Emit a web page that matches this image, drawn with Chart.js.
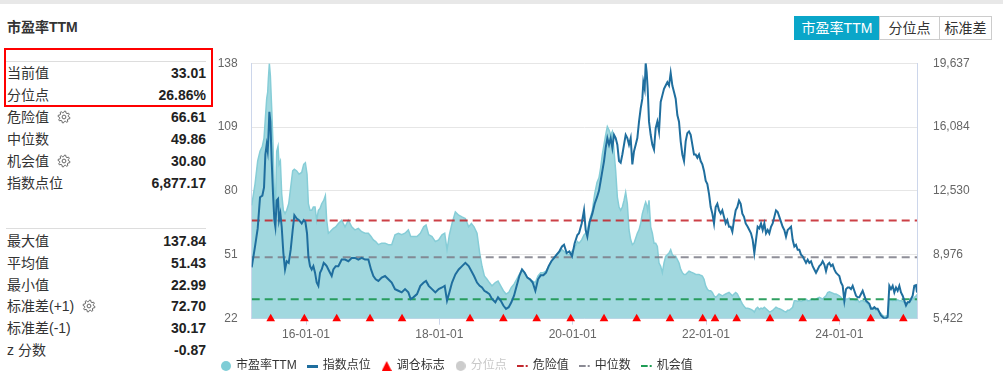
<!DOCTYPE html>
<html>
<head>
<meta charset="utf-8">
<script src="https://cdn.jsdelivr.net/npm/chart.js@4.4.1/dist/chart.umd.min.js"></script>
<style>
  html, body { margin: 0; padding: 0; background: #fff; overflow: hidden; }
  body { width: 1003px; height: 377px; position: relative; font-family: "Liberation Sans", "Noto Sans CJK SC", sans-serif; color: #333; }
  .topbar { position: absolute; left: 0; top: 0; width: 1003px; height: 4px; background: #e8e8e8; }
  .title { position: absolute; left: 7px; top: 19px; font-size: 14px; font-weight: bold; line-height: 16px; color: #333; }
  .redbox { position: absolute; left: 4px; top: 48px; width: 205px; height: 55px; border: 2px solid #f00; }
  .sep { position: absolute; left: 6px; width: 200px; height: 1px; background: #ddd; }
  .row { position: absolute; left: 7px; width: 199px; height: 20px; font-size: 14px; line-height: 20px; white-space: nowrap; }
  .row .v { position: absolute; right: 0; top: 0; font-weight: bold; color: #222; }
  .gear { display: inline-block; vertical-align: -2px; margin-left: 8px; }
  .btn { position: absolute; top: 16px; height: 22px; line-height: 22px; font-size: 14px; text-align: center; border: 1px solid #ccc; color: #333; background: #fff; }
  .btn.on { background: #0aa6c9; border-color: #0aa6c9; color: #fff; }
  #wrap { position: absolute; left: 210px; top: 40px; width: 793px; height: 345px; }
</style>
</head>
<body>
<div class="topbar"></div>
<div class="title">市盈率TTM</div>
<div class="redbox"></div>
<div class="sep" style="top:61px"></div>
<div class="sep" style="top:228px"></div>
<div id="stats"></div>
<div class="btn on" style="left:794px;width:84px">市盈率TTM</div>
<div class="btn" style="left:879px;width:59px">分位点</div>
<div class="btn" style="left:939px;width:51px">标准差</div>
<div id="wrap"><canvas id="chart"></canvas></div>

<script>
// ---- data ----
const dates = [
  2015.185, 2015.235, 2015.275, 2015.31, 2015.345, 2015.37, 2015.39, 2015.41, 2015.425, 2015.435,
  2015.45, 2015.465, 2015.485, 2015.505, 2015.525, 2015.54, 2015.56, 2015.58, 2015.595, 2015.615,
  2015.635, 2015.66, 2015.685, 2015.71, 2015.74, 2015.77, 2015.80, 2015.825, 2015.86, 2015.895,
  2015.935, 2015.965, 2015.99, 2016.015, 2016.035, 2016.06, 2016.085, 2016.11, 2016.135, 2016.16,
  2016.185, 2016.21, 2016.235, 2016.265, 2016.29, 2016.31, 2016.335, 2016.36, 2016.385, 2016.41,
  2016.445, 2016.485, 2016.535, 2016.585, 2016.635, 2016.685, 2016.735, 2016.785, 2016.835, 2016.885,
  2016.935, 2016.975, 2017.01, 2017.045, 2017.085, 2017.135, 2017.185, 2017.235, 2017.285, 2017.335,
  2017.385, 2017.435, 2017.485, 2017.535, 2017.57, 2017.61, 2017.665, 2017.715, 2017.765, 2017.8,
  2017.84, 2017.89, 2017.94, 2017.99, 2018.04, 2018.08, 2018.115, 2018.15, 2018.19, 2018.24,
  2018.29, 2018.34, 2018.39, 2018.44, 2018.48, 2018.52, 2018.565, 2018.605, 2018.64, 2018.675,
  2018.715, 2018.75, 2018.79, 2018.84, 2018.88, 2018.92, 2018.96, 2019.0, 2019.04, 2019.08,
  2019.12, 2019.16, 2019.2, 2019.24, 2019.28, 2019.32, 2019.36, 2019.4, 2019.44, 2019.48,
  2019.52, 2019.56, 2019.6, 2019.64, 2019.68, 2019.72, 2019.76, 2019.8, 2019.84, 2019.87,
  2019.91, 2019.95, 2019.99, 2020.03, 2020.07,
  2020.095, 2020.135, 2020.17, 2020.195, 2020.22, 2020.255, 2020.295, 2020.33, 2020.365, 2020.395,
  2020.42, 2020.445, 2020.47, 2020.495, 2020.52, 2020.545, 2020.57, 2020.595, 2020.62, 2020.645,
  2020.67, 2020.695, 2020.72, 2020.745, 2020.77, 2020.795, 2020.82, 2020.845, 2020.87, 2020.895,
  2020.92, 2020.945, 2020.97, 2020.995, 2021.02, 2021.045, 2021.06, 2021.08, 2021.095, 2021.11,
  2021.125, 2021.145, 2021.17, 2021.195, 2021.22, 2021.245, 2021.27, 2021.295, 2021.32, 2021.345,
  2021.37, 2021.395, 2021.42, 2021.445, 2021.47, 2021.495, 2021.52, 2021.545, 2021.57, 2021.595,
  2021.62, 2021.645, 2021.67, 2021.695, 2021.72, 2021.745, 2021.77, 2021.795, 2021.82, 2021.845,
  2021.87, 2021.895, 2021.92, 2021.945, 2021.97, 2021.995, 2022.02, 2022.045, 2022.07, 2022.095,
  2022.12, 2022.145, 2022.17, 2022.195, 2022.22, 2022.245, 2022.27, 2022.295, 2022.32, 2022.345,
  2022.37, 2022.395, 2022.42, 2022.445, 2022.47, 2022.495, 2022.52, 2022.545, 2022.57, 2022.595,
  2022.625, 2022.65, 2022.675, 2022.7, 2022.725, 2022.75, 2022.775, 2022.8, 2022.825, 2022.85,
  2022.875, 2022.9, 2022.925, 2022.95, 2022.975, 2023.0, 2023.025, 2023.05, 2023.075, 2023.1,
  2023.125, 2023.15, 2023.175, 2023.2, 2023.225, 2023.25, 2023.275, 2023.3, 2023.325, 2023.35,
  2023.375, 2023.4, 2023.425, 2023.45, 2023.475, 2023.5, 2023.525, 2023.55, 2023.575, 2023.6,
  2023.625, 2023.65, 2023.675, 2023.7, 2023.725, 2023.75, 2023.775, 2023.8, 2023.825, 2023.85,
  2023.875, 2023.9, 2023.925, 2023.95, 2023.975, 2024.0, 2024.025, 2024.05, 2024.075, 2024.1,
  2024.125, 2024.15, 2024.175, 2024.2, 2024.225, 2024.25, 2024.275, 2024.3, 2024.325, 2024.35,
  2024.375, 2024.4, 2024.425, 2024.45, 2024.475, 2024.5, 2024.525, 2024.55, 2024.575, 2024.6,
  2024.625, 2024.65, 2024.675, 2024.7, 2024.725, 2024.75, 2024.775, 2024.8, 2024.825, 2024.85,
  2024.875, 2024.9, 2024.925, 2024.95, 2024.975, 2025.0, 2025.025, 2025.05, 2025.075, 2025.1,
  2025.125, 2025.15, 2025.165
]

const peValues = [
  73.5, 83.1, 93.6, 98.0, 100.3, 104.0, 113.0, 121.9, 124.9, 130.8,
  137.84, 132.3, 117.4, 101.0, 78.7, 71.2, 98.0, 100.3, 92.1, 93.6,
  78.7, 71.2, 69.7, 71.2, 74.2, 81.6, 89.1, 89.9, 89.1, 87.6,
  88.4, 92.1, 92.8, 87.6, 74.2, 71.2, 71.2, 72.7, 72.7, 66.7,
  71.2, 72.0, 74.2, 75.7, 77.9, 66.7, 60.8, 61.5, 62.3, 63.0,
  63.7, 65.2, 66.7, 63.7, 66.7, 63.7, 62.3, 63.0, 61.5, 60.8,
  60.8, 59.3, 57.8, 57.0, 55.6, 56.3, 56.3, 55.6, 55.6, 60.1,
  60.8, 60.1, 60.8, 62.3, 59.3, 59.3, 59.3, 60.8, 63.7, 64.5,
  60.1, 59.3, 57.0, 57.8, 60.1, 60.8, 53.3, 60.1, 65.2, 70.5,
  69.0, 68.2, 67.5, 63.7, 65.2, 63.7, 60.8, 51.8, 45.8, 41.4,
  39.9, 38.4, 36.9, 38.4, 39.1, 36.9, 34.7, 33.2, 33.9, 36.2,
  37.7, 39.9, 42.1, 44.4, 42.9, 40.6, 39.9, 39.1, 38.4, 41.4,
  42.9, 42.9, 43.6, 45.8, 48.1, 49.2, 51.1, 52.1, 53.3, 52.6,
  51.1, 51.1, 52.6, 54.1, 57.0,
  56.3, 57.8, 60.0, 60.8, 62.3, 66.7, 71.2, 78.7, 83.9, 86.1,
  90.6, 96.6, 101.0, 105.5, 109.2, 107.7, 105.5, 107.0, 98.0, 89.1,
  77.2, 72.7, 71.2, 72.7, 75.7, 79.4, 74.2, 62.3, 57.8, 55.6,
  56.3, 58.5, 60.8, 62.3, 65.2, 69.7, 71.2, 73.5, 74.9, 73.5,
  71.2, 75.7, 63.7, 60.8, 56.3, 56.3, 54.8, 47.3, 45.8, 42.9,
  47.3, 50.3, 51.0, 51.8, 53.3, 51.0, 50.3, 50.3, 48.8, 47.3,
  44.4, 42.9, 42.1, 42.1, 42.9, 43.6, 43.2, 42.9, 42.6, 42.1,
  42.1, 42.1, 41.7, 41.4, 39.9, 36.9, 35.4, 34.7, 34.7, 33.9,
  32.4, 31.7, 32.4, 33.2, 32.8, 32.4, 32.8, 33.2, 33.6, 33.9,
  33.2, 32.4, 33.2, 33.9, 33.2, 31.7, 30.2, 28.7, 27.7, 26.8,
  26.8, 26.5, 26.2, 25.8, 25.0, 26.5, 27.2, 26.2, 26.8, 26.5,
  27.2, 26.5, 25.8, 25.0, 25.3, 25.8, 26.5, 27.2, 26.8, 26.5,
  26.2, 25.8, 25.3, 25.0, 25.8, 25.8, 26.5, 27.2, 30.2, 30.2,
  29.8, 30.2, 29.8, 30.2, 30.6, 30.9, 30.2, 30.2, 30.6, 30.9,
  30.6, 30.9, 31.3, 31.7, 31.3, 30.9, 31.7, 32.4, 33.9, 34.2,
  33.9, 33.6, 33.2, 33.2, 32.8, 32.4, 31.7, 30.9, 29.0, 30.9,
  30.9, 31.3, 30.9, 30.9, 30.6, 30.2, 30.6, 29.5, 30.2, 30.2,
  29.8, 29.5, 28.7, 28.0, 27.2, 26.5, 26.5, 25.8, 25.8, 25.0,
  24.3, 23.5, 22.99, 23.2, 23.5, 30.2, 30.6, 30.2, 30.6, 30.2,
  30.6, 30.2, 30.2, 29.8, 29.5, 29.1, 29.5, 29.8, 30.2, 30.9,
  31.7, 32.2, 33.01
]

const indexValues = [
  8273, 9442, 10447, 12183, 12274, 12731, 14558, 15106, 14741, 15471,
  16933, 16385, 14193, 12366, 10904, 10538, 12000, 12092, 10904, 11269,
  10538, 9077, 8163, 8620, 8529, 9260, 10356, 11178, 10995, 10904,
  10721, 10904, 10812, 10173, 8894, 8346, 8163, 8346, 7981, 7433,
  7250, 7981, 8163, 8529, 8437, 8346, 8163, 7981, 7798, 8163,
  8346, 8346, 8711, 8711, 8620, 8803, 8803, 8711, 8803, 8711,
  8711, 8163, 7798, 7615, 7524, 7707, 7798, 7615, 7433, 7067,
  6976, 6885, 7067, 6885, 6519, 6610, 6793, 7250, 7433, 7524,
  7250, 7067, 6885, 7067, 7159, 7250, 6428, 6885, 7433, 7889,
  8163, 8346, 8529, 8346, 8072, 7798, 7433, 7250, 7159, 6976,
  6885, 6793, 6519, 6337, 6610, 6428, 6154, 5971, 6063, 6337,
  6702, 7250, 7798, 8163, 7981, 7707, 7615, 7433, 6976, 7615,
  7835, 7835, 7981, 8346, 8620, 8803, 8986, 9169, 9442, 9534,
  9077, 9169, 8894, 9625, 10082,
  10173, 10721, 11452, 10356, 9990, 10812, 11269, 11817, 12183, 12548,
  13096, 13644, 14193, 14923, 15471, 15106, 15471, 14923, 15654, 15471,
  15106, 14193, 14101, 14558, 15106, 15654, 15471, 15106, 15471, 14010,
  14741, 15106, 15471, 16385, 17116, 17664, 18577, 18212, 19637, 19125,
  18212, 16385, 15654, 15106, 14832, 16020, 16385, 15837, 17481, 17847,
  18212, 18395, 18577, 18395, 19100, 18395, 18029, 17664, 16750, 16385,
  15289, 14558, 14193, 15289, 15745, 15837, 15654, 15106, 14558, 14558,
  14375, 14558, 14193, 14010, 13644, 13096, 12914, 12366, 11635, 11269,
  10721, 11635, 11817, 11452, 11269, 11452, 11087, 10721, 10904, 10538,
  10538, 10264, 10904, 11452, 11635, 12000, 11817, 11269, 11087, 10721,
  10538, 10356, 10173, 9808, 9077, 9808, 10538, 10447, 10721, 10356,
  10721, 10173, 10356, 10173, 10538, 10721, 11087, 11452, 11361, 11087,
  10812, 10538, 10356, 9990, 10356, 10447, 10538, 9808, 9442, 9534,
  9260, 9260, 8986, 8894, 8711, 8529, 8711, 8529, 8620, 8346,
  8163, 7981, 8163, 8346, 8437, 8620, 8437, 8072, 8437, 8529,
  8346, 8437, 8163, 7981, 7889, 7798, 7433, 7250, 6428, 7067,
  7159, 7159, 7067, 7250, 6976, 6702, 6610, 6610, 6793, 6976,
  6702, 6428, 6337, 6245, 5971, 5971, 6063, 5971, 5971, 5789,
  5606, 5514, 5422, 5450, 5514, 7250, 7067, 7250, 6885, 7159,
  6976, 7250, 6885, 6702, 6428, 6154, 6337, 6337, 6519, 6702,
  7250, 7287, 6877.17
]

const rebalanceDates = [
  2015.47, 2015.975, 2016.46, 2016.96, 2017.44, 2018.46, 2018.96, 2019.46, 2019.97, 2020.47,
  2020.96, 2021.46, 2021.95, 2022.135, 2022.46, 2022.96, 2023.45, 2023.95, 2024.47, 2024.96
]

const dangerValue = 66.61
const medianValue = 49.86
const chanceValue = 30.80

const peTicks = [22, 51, 80, 109, 138]
const indexTicks = [5422, 8976, 12530, 16084, 19637]
const indexTickLabels = ["5,422", "8,976", "12,530", "16,084", "19,637"]
const xTicks = [2016, 2018, 2020, 2022, 2024]
const xTickLabels = ["16-01-01", "18-01-01", "20-01-01", "22-01-01", "24-01-01"]

const seriesNames = ["市盈率TTM", "指数点位", "调仓标志", "分位点", "危险值", "中位数", "机会值"]

const statLabelsTop = ["当前值", "分位点", "危险值", "中位数", "机会值", "指数点位"]
const statValuesTop = ["33.01", "26.86%", "66.61", "49.86", "30.80", "6,877.17"]
const statLabelsBottom = ["最大值", "平均值", "最小值", "标准差(+1)", "标准差(-1)", "z 分数"]
const statValuesBottom = ["137.84", "51.43", "22.99", "72.70", "30.17", "-0.87"]
const gearRows = ["危险值", "机会值", "标准差(+1)"]

// ---- left stats panel ----
// small cog outline next to the editable rows
function gearSvg() {
  const pts = []
  for (let i = 0; i < 32; i++) {
    const ang = (i + 0.5) * Math.PI / 16
    const r = (i % 4 < 2) ? 6 : 4.4
    pts.push((7 + r * Math.cos(ang)).toFixed(2) + "," + (7 + r * Math.sin(ang)).toFixed(2))
  }
  return '<svg class="gear" width="14" height="14" viewBox="0 0 14 14">' +
    '<polygon points="' + pts.join(" ") + '" fill="none" stroke="#666" stroke-width="1" stroke-linejoin="round"/>' +
    '<circle cx="7" cy="7" r="1.9" fill="none" stroke="#666" stroke-width="1"/></svg>'
}

function addRows(labels, values, top, step) {
  const box = document.getElementById("stats")
  labels.forEach((label, i) => {
    const row = document.createElement("div")
    row.className = "row"
    row.style.top = (top + i * step) + "px"
    row.innerHTML = label + (gearRows.includes(label) ? gearSvg() : "") + '<span class="v">' + values[i] + "</span>"
    box.appendChild(row)
  })
}
addRows(statLabelsTop, statValuesTop, 62.5, 22)
addRows(statLabelsBottom, statValuesBottom, 230.8, 21.85)

// ---- legend markers ----
function marker(w, h, draw) {
  const c = document.createElement("canvas")
  c.width = w
  c.height = h
  draw(c.getContext("2d"))
  return c
}
const legendMarkers = [
  marker(10, 10, ctx => { ctx.fillStyle = "#7fcdd6"; ctx.beginPath(); ctx.arc(5, 5, 5, 0, Math.PI * 2); ctx.fill() }),
  marker(11, 3, ctx => { ctx.fillStyle = "#1f6e9e"; ctx.fillRect(0, 0, 11, 3) }),
  marker(10, 10, ctx => { ctx.fillStyle = "#ff0000"; ctx.beginPath(); ctx.moveTo(5, 0); ctx.lineTo(10, 10); ctx.lineTo(0, 10); ctx.fill() }),
  marker(10, 10, ctx => { ctx.fillStyle = "#cccccc"; ctx.beginPath(); ctx.arc(5, 5, 5, 0, Math.PI * 2); ctx.fill() }),
  marker(12, 2, ctx => { ctx.fillStyle = "#c3282e"; ctx.fillRect(0, 0, 7, 2); ctx.fillRect(9, 0, 2, 2) }),
  marker(12, 2, ctx => { ctx.fillStyle = "#8a8a94"; ctx.fillRect(0, 0, 7, 2); ctx.fillRect(9, 0, 2, 2) }),
  marker(12, 2, ctx => { ctx.fillStyle = "#1f9d55"; ctx.fillRect(0, 0, 7, 2); ctx.fillRect(9, 0, 2, 2) })
]

// ---- chart ----
Chart.defaults.font.family = "'Liberation Sans', 'Noto Sans CJK SC', sans-serif"
Chart.defaults.font.size = 12

const xMin = dates[0]
const xMax = dates[dates.length - 1]
const pePoints = dates.map((d, i) => ({ x: d, y: peValues[i] }))
const indexPoints = dates.map((d, i) => ({ x: d, y: indexValues[i] }))
const rebalancePoints = rebalanceDates.map(d => ({ x: d, y: peTicks[0] }))
const flatLine = v => [{ x: xMin, y: v }, { x: xMax, y: v }]

const thresholdStyle = color => ({
  yAxisID: "y",
  borderColor: color,
  borderWidth: 2,
  borderDash: [8, 5],
  pointRadius: 0,
  fill: false,
  order: 2
})

const ctx = document.getElementById("chart").getContext("2d")
const chart = new Chart(ctx, {
  type: "line",
  data: {
    datasets: [
      {
        label: seriesNames[0],
        data: pePoints,
        yAxisID: "y",
        borderColor: "#86cdd7",
        backgroundColor: "#a1d8df",
        borderWidth: 1.5,
        fill: "start",
        pointRadius: 0,
        tension: 0,
        order: 4
      },
      {
        label: seriesNames[1],
        data: indexPoints,
        yAxisID: "y2",
        borderColor: "#1f6e9e",
        borderWidth: 2,
        pointRadius: 0,
        fill: false,
        tension: 0,
        order: 1
      },
      {
        label: seriesNames[2],
        data: rebalancePoints,
        yAxisID: "y",
        showLine: false,
        pointStyle: "triangle",
        pointRadius: 5,
        backgroundColor: "#ff0000",
        borderColor: "#ff0000",
        borderWidth: 0,
        clip: false,
        order: 0
      },
      {
        label: seriesNames[3],
        data: [],
        yAxisID: "y",
        hidden: true
      },
      { label: seriesNames[4], data: flatLine(dangerValue), ...thresholdStyle("rgba(195,30,38,0.85)") },
      { label: seriesNames[5], data: flatLine(medianValue), ...thresholdStyle("rgba(125,125,135,0.85)") },
      { label: seriesNames[6], data: flatLine(chanceValue), ...thresholdStyle("rgba(25,150,80,0.9)") }
    ]
  },
  options: {
    responsive: true,
    maintainAspectRatio: false,
    animation: false,
    layout: { padding: { top: 8.1, bottom: 3, left: 0, right: 0 } },
    plugins: {
      tooltip: { enabled: false },
      legend: {
        position: "bottom",
        align: "start",
        labels: {
          usePointStyle: true,
          boxWidth: 8,
          padding: 12,
          color: "#333",
          font: { size: 12 },
          generateLabels: (c) => c.data.datasets.map((ds, i) => ({
            text: ds.label,
            pointStyle: legendMarkers[i],
            fontColor: i === 3 ? "#c8c8c8" : "#333",
            hidden: false,
            datasetIndex: i,
            lineWidth: 0,
            fillStyle: "rgba(0,0,0,0)",
            strokeStyle: "rgba(0,0,0,0)"
          }))
        }
      }
    },
    scales: {
      x: {
        type: "linear",
        min: xMin,
        max: xMax,
        afterBuildTicks: (scale) => { scale.ticks = xTicks.map(v => ({ value: v })) },
        afterFit: (scale) => { scale.height = 29.3 },
        ticks: {
          callback: (value, index) => xTickLabels[index],
          color: "#666",
          padding: 3,
          maxRotation: 0,
          autoSkip: false
        },
        grid: { drawOnChartArea: false, color: "#ccd6eb", tickLength: 6 },
        border: { color: "#ccd6eb" }
      },
      y: {
        position: "left",
        min: peTicks[0],
        max: peTicks[peTicks.length - 1],
        afterBuildTicks: (scale) => { scale.ticks = peTicks.map(v => ({ value: v })) },
        afterFit: (scale) => { scale.width = 41.7 },
        ticks: { callback: (value, index) => peTicks[index], color: "#666", padding: 14 },
        grid: { color: "#e6e6e6", drawTicks: false },
        border: { color: "#ccd6eb" }
      },
      y2: {
        position: "right",
        min: indexTicks[0],
        max: indexTicks[indexTicks.length - 1],
        afterBuildTicks: (scale) => { scale.ticks = indexTicks.map(v => ({ value: v })) },
        afterFit: (scale) => { scale.width = 86 },
        ticks: { callback: (value, index) => indexTickLabels[index], color: "#666", padding: 16 },
        grid: { drawOnChartArea: false, drawTicks: false },
        border: { color: "#ccd6eb" }
      }
    }
  }
})
</script>
</body>
</html>
